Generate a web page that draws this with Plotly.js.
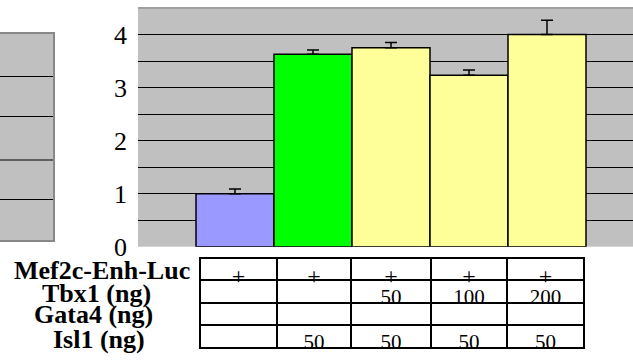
<!DOCTYPE html>
<html><head><meta charset="utf-8">
<script src="https://cdn.plot.ly/plotly-3.0.1.min.js"></script>
<style>html,body{margin:0;padding:0;background:#fff}</style>
</head><body><div id="chart" style="width:633px;height:364px"></div>
<script>
// ---- data ----
const conditions = [0, 1, 2, 3, 4];
const foldActivation = [1.0, 3.63, 3.75, 3.23, 4.0];
const errorValues = [0.09, 0.08, 0.10, 0.10, 0.27];
const barColors = ['#9999FF', '#00FF00', '#FFFF99', '#FFFF99', '#FFFF99'];
const yTickValues = [0, 1, 2, 3, 4];
const yTickLabels = ['0', '1', '2', '3', '4'];
const rowLabels = ['Mef2c-Enh-Luc', 'Tbx1 (ng)', 'Gata4 (ng)', 'Isl1 (ng)'];
const mef2cEnhLuc = ['+', '+', '+', '+', '+'];
const tbx1Ng = ['', '', '50', '100', '200'];
const gata4Ng = ['', '', '', '', ''];
const isl1Ng = ['', '50', '50', '50', '50'];

// ---- layout helpers (pixel -> paper) ----
const W = 633, H = 364;
const px = x => x / W;
const py = y => 1 - y / H;
const SERIF = 'Liberation Serif, Times New Roman, Times, serif';

const bars = {
  type: 'bar',
  x: conditions,
  y: foldActivation,
  width: 1,
  marker: { color: barColors, line: { color: '#000', width: 1.5 } },
  error_y: { type: 'data', array: errorValues, symmetric: false, arrayminus: conditions.map(() => 0),
             color: '#000', thickness: 1.5, width: 6 },
  hoverinfo: 'skip',
  showlegend: false,
  xaxis: 'x', yaxis: 'y'
};

const table = {
  type: 'table',
  domain: { x: [px(200), px(584)], y: [py(349), py(258)] },
  columnwidth: [77, 74, 80, 76, 77],
  header: {
    values: mef2cEnhLuc,
    height: 22,
    align: 'center',
    fill: { color: '#fff' },
    line: { color: '#000', width: 2 },
    font: { family: SERIF, size: 24, color: '#000' }
  },
  cells: {
    values: conditions.map(i => [tbx1Ng[i], gata4Ng[i], isl1Ng[i]]),
    height: 22.5,
    align: 'center',
    fill: { color: '#fff' },
    line: { color: '#000', width: 2 },
    font: { family: SERIF, size: 21, color: '#000' }
  }
};

const labelY = [270, 293, 314, 339];
const annotations = rowLabels.map((t, i) => ({
  xref: 'paper', yref: 'paper',
  x: px([102, 96, 94, 99][i]), y: py(labelY[i]),
  xanchor: 'center', yanchor: 'middle',
  text: '<b>' + t + '</b>', showarrow: false,
  font: { family: SERIF, size: 26, color: '#000' }
}));

const shapes = [
  // decorative cropped panel at the far left
  { type: 'rect', xref: 'paper', yref: 'paper', x0: px(-5), x1: px(54), y0: py(241), y1: py(33),
    fillcolor: '#C0C0C0', line: { color: '#888', width: 2 }, layer: 'below' },
  ...[76.5, 116.5, 160, 199.5].map(y => ({ type: 'line', xref: 'paper', yref: 'paper',
    x0: 0, x1: px(53), y0: py(y), y1: py(y), line: { color: '#000', width: 1 } })),
  // top border of the plot area
  { type: 'line', xref: 'paper', yref: 'paper', x0: px(138), x1: 1, y0: py(8), y1: py(8),
    line: { color: '#A0A0A0', width: 2 } }
];

const layout = {
  width: W, height: H,
  margin: { l: 0, r: 0, t: 0, b: 0, pad: 0 },
  paper_bgcolor: '#fff',
  plot_bgcolor: '#C0C0C0',
  font: { family: SERIF, color: '#000' },
  bargap: 0,
  xaxis: { domain: [px(138), 1], range: [-1.2436, 5.1026], showticklabels: false, showgrid: false,
           zeroline: false, showline: false, ticks: '', fixedrange: true },
  yaxis: { domain: [py(246.7), py(8)], range: [0, 4.5], tickvals: yTickValues, ticktext: yTickLabels,
           showgrid: true, gridcolor: '#000', gridwidth: 1, zeroline: false, showline: false, ticks: '',
           ticklabelstandoff: 10,
           minor: { dtick: 0.5, showgrid: true, gridcolor: '#000', gridwidth: 1, ticks: '' },
           tickfont: { family: SERIF, size: 26, color: '#000' },
           fixedrange: true },
  shapes, annotations
};

Plotly.newPlot('chart', [bars, table], layout, { displayModeBar: false, staticPlot: true });
</script>
</body></html>
